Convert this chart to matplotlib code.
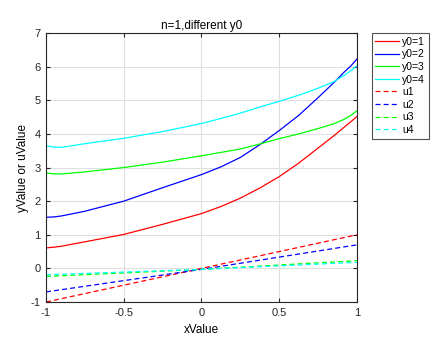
import matplotlib
matplotlib.use("Agg")
import matplotlib.pyplot as plt
from matplotlib.ticker import FuncFormatter

plt.rcParams["font.family"] = ["Liberation Sans", "DejaVu Sans"]

x = [-1.0, -0.95, -0.9, -0.75, -0.5, -0.25, 0.0, 0.125, 0.25, 0.375,
     0.5, 0.625, 0.75, 0.85, 0.92, 0.96, 1.0]

y1 = [0.61, 0.63, 0.66, 0.79, 1.01, 1.31, 1.63, 1.84, 2.09, 2.39,
      2.73, 3.13, 3.58, 3.94, 4.21, 4.36, 4.52]
y2 = [1.52, 1.53, 1.56, 1.70, 2.00, 2.40, 2.79, 3.02, 3.30, 3.68,
      4.10, 4.55, 5.08, 5.52, 5.85, 6.02, 6.23]
y3 = [2.84, 2.81, 2.81, 2.87, 3.00, 3.16, 3.35, 3.45, 3.55, 3.70,
      3.86, 4.00, 4.16, 4.30, 4.44, 4.55, 4.69]
y4 = [3.65, 3.61, 3.60, 3.71, 3.87, 4.07, 4.31, 4.46, 4.62, 4.80,
      4.97, 5.15, 5.36, 5.55, 5.75, 5.88, 6.03]

u_x = [-1.0, 0.0, 1.0]
u1 = [-1.0, 0.0, 1.0]
u2 = [-0.7, -0.03, 0.7]
u3 = [-0.24, -0.03, 0.23]
u4 = [-0.19, -0.03, 0.18]

labels = ["y0=1", "y0=2", "y0=3", "y0=4", "u1", "u2", "u3", "u4"]
colors = ["#ff0000", "#0000ff", "#00ff00", "#00ffff"]

fig = plt.figure(figsize=(4.44, 3.41), dpi=100)
ax = fig.add_axes([0.1036, 0.1144, 0.7004, 0.7886])

for ys, c, lab in zip([y1, y2, y3, y4], colors, labels[:4]):
    ax.plot(x, ys, color=c, lw=0.9, label=lab)
for us, c, lab in zip([u1, u2, u3, u4], colors, labels[4:]):
    ax.plot(u_x, us, color=c, lw=0.9, ls=(0, (4, 2.5)), label=lab)

ax.set_xlim(-1, 1)
ax.set_ylim(-1, 7)
ax.set_xticks([-1, -0.5, 0, 0.5, 1])
ax.set_yticks(range(-1, 8))
fmt = FuncFormatter(lambda v, p: ("%g" % v).replace("\u2212", "-"))
ax.xaxis.set_major_formatter(fmt)
ax.yaxis.set_major_formatter(fmt)
ax.grid(True, color="#e0e0e0", lw=0.8)
ax.set_axisbelow(True)
ax.tick_params(direction="in", length=3, labelsize=8, top=True, right=True,
               colors="#262626", pad=4)
for s in ax.spines.values():
    s.set_color("#262626")
    s.set_linewidth(0.8)

ax.set_title("n=1,different y0", fontsize=8.5, pad=3)
ax.set_xlabel("xValue", fontsize=8.5, labelpad=5)
ax.set_ylabel("yValue or uValue", fontsize=8.5, labelpad=1)

leg = ax.legend(loc="upper left", bbox_to_anchor=(1.047, 1.0), fontsize=7.5,
                frameon=True, fancybox=False, edgecolor="#262626",
                handlelength=2.3, handletextpad=0.3, labelspacing=0.25,
                borderpad=0.35, borderaxespad=0)
leg.get_frame().set_linewidth(0.8)

fig.savefig("out.png", dpi=100)
